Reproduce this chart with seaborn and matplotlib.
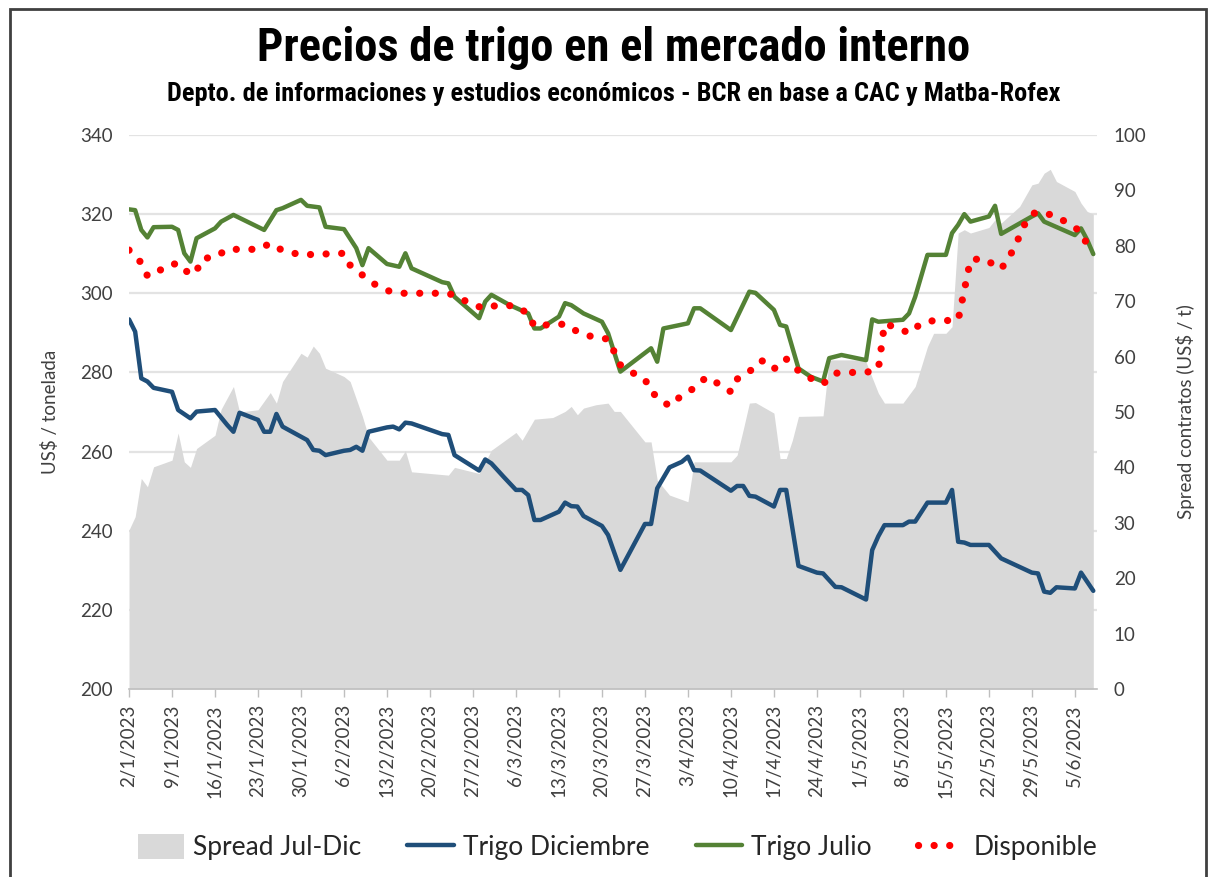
import pandas as pd
import matplotlib.pyplot as plt
from matplotlib.patches import Patch, Rectangle
from matplotlib.lines import Line2D
import seaborn as sns

# ======== DATA (dias desde 2/1/2023) ========
INICIO = pd.Timestamp("2023-01-02")

julio_dia = [0, 1, 2, 3, 4, 7, 8, 9, 10, 11, 14, 15, 17, 22, 24, 25, 28, 29, 31, 32, 35, 37, 38, 39,
             42, 44, 45, 46, 51, 52, 53, 57, 58, 59, 62, 65, 66, 67, 70, 71, 72, 74, 77, 78, 80, 85,
             86, 87, 91, 92, 93, 98, 101, 102, 105, 106, 107, 109, 111, 113, 114, 116, 120, 121, 122,
             126, 127, 128, 130, 133, 134, 135, 136, 137, 140, 141, 142, 147, 148, 149, 154, 155, 156, 157]
julio_val = [321.2, 321.0, 316.0, 314.1, 316.7, 316.8, 316.0, 310.1, 308.0, 313.9, 316.4, 318.1, 319.8,
             316.0, 321.0, 321.5, 323.6, 322.1, 321.7, 316.8, 316.2, 311.4, 307.1, 311.4, 307.4, 306.7,
             310.1, 306.3, 302.8, 302.5, 299.1, 293.7, 297.9, 299.6, 297.0, 294.9, 291.1, 291.1, 294.1,
             297.5, 297.0, 294.9, 292.8, 289.9, 280.2, 286.1, 282.7, 291.1, 292.4, 296.2, 296.2, 290.7,
             300.4, 300.1, 295.8, 292.0, 291.6, 281.0, 278.9, 277.7, 283.6, 284.4, 283.1, 293.4, 292.8,
             293.3, 294.9, 299.1, 309.7, 309.7, 315.2, 317.3, 320.0, 318.1, 319.4, 322.1, 315.0, 319.4,
             320.2, 318.1, 314.7, 316.4, 313.5, 309.9]

disp_dia = [0, 2, 3, 4, 6, 8, 10, 11, 12, 14, 16, 21, 23, 25, 28, 35, 36, 38, 40, 42, 44, 52, 54, 56,
            58, 60, 63, 65, 66, 68, 71, 73, 75, 78, 79, 80, 82, 84, 85, 87, 88, 90, 92, 94, 96, 98, 99,
            101, 103, 105, 106, 107, 109, 111, 113, 115, 118, 120, 122, 123, 125, 127, 129, 131, 133,
            135, 137, 139, 141, 142, 144, 145, 146, 147, 148, 151, 153, 155, 156, 157]
disp_val = [310.9, 307.7, 304.4, 304.6, 306.9, 307.6, 304.6, 305.7, 308.8, 309.1, 311.1, 311.1, 312.6,
            310.8, 309.7, 310.1, 307.1, 304.6, 302.3, 300.7, 300.0, 300.0, 298.7, 297.0, 296.2, 297.0,
            296.8, 294.8, 291.6, 292.0, 292.2, 290.3, 289.2, 288.4, 285.2, 281.9, 279.9, 278.3, 275.1,
            272.6, 271.5, 274.2, 276.0, 278.8, 277.1, 275.1, 278.3, 280.2, 283.0, 280.8, 282.7, 283.4,
            280.4, 278.5, 277.1, 279.8, 280.0, 280.0, 280.8, 292.2, 291.4, 289.9, 292.4, 293.1, 293.1,
            293.2, 308.4, 308.8, 307.1, 306.1, 311.0, 314.5, 318.0, 320.0, 320.6, 319.5, 317.5, 315.6,
            312.2, 310.2]

dic_dia = [0, 1, 2, 3, 4, 7, 8, 10, 11, 14, 16, 17, 18, 21, 22, 23, 24, 25, 29, 30, 31, 32, 35, 36,
           37, 38, 39, 42, 43, 44, 45, 46, 51, 52, 53, 57, 58, 59, 61, 63, 64, 65, 66, 67, 70, 71, 72,
           73, 74, 77, 78, 80, 84, 85, 86, 88, 90, 91, 92, 93, 98, 99, 100, 101, 102, 105, 106, 107,
           109, 112, 113, 115, 116, 120, 121, 122, 123, 126, 127, 128, 130, 133, 134, 135, 136, 137,
           140, 142, 147, 148, 149, 150, 151, 154, 155, 157]
dic_val = [293.4, 290.3, 278.5, 277.7, 276.1, 275.1, 270.5, 268.4, 270.1, 270.5, 266.7, 265.0, 269.8,
           268.0, 265.0, 265.0, 269.5, 266.3, 262.9, 260.4, 260.2, 259.1, 260.2, 260.4, 261.2, 260.2,
           265.0, 266.1, 266.3, 265.6, 267.3, 267.1, 264.4, 264.2, 259.1, 255.2, 258.0, 257.0, 253.6,
           250.3, 250.3, 249.0, 242.7, 242.7, 244.8, 247.1, 246.2, 246.1, 243.7, 241.2, 238.9, 230.1,
           241.7, 241.7, 250.7, 256.0, 257.4, 258.7, 255.3, 255.2, 250.1, 251.3, 251.3, 248.8, 248.6,
           246.1, 250.3, 250.3, 231.1, 229.4, 229.2, 225.8, 225.7, 222.6, 235.1, 238.6, 241.4, 241.4,
           242.3, 242.3, 247.1, 247.1, 250.3, 237.2, 237.0, 236.4, 236.4, 233.0, 229.4, 229.2, 224.6,
           224.3, 225.7, 225.4, 229.4, 224.8]

spread_dia = [0, 1, 2, 3, 4, 7, 8, 9, 10, 11, 14, 15, 17, 18, 21, 23, 24, 25, 28, 29, 30, 31, 32, 35,
              36, 38, 39, 42, 44, 45, 46, 52, 53, 57, 59, 63, 64, 66, 69, 71, 72, 73, 74, 76, 78, 79,
              80, 84, 85, 86, 88, 91, 92, 98, 99, 100, 101, 102, 105, 106, 107, 108, 109, 113, 114,
              119, 120, 122, 123, 126, 128, 130, 131, 133, 134, 135, 136, 137, 140, 141, 142, 145,
              147, 148, 149, 150, 151, 153, 154, 155, 156, 157]
spread_val = [28.7, 31.1, 38.0, 36.5, 40.1, 41.3, 46.2, 41.0, 40.0, 43.4, 45.8, 50.5, 54.6, 50.0, 50.4,
              53.5, 51.6, 55.5, 60.6, 59.9, 61.9, 60.6, 57.9, 56.4, 55.5, 49.2, 45.5, 41.3, 41.3, 43.0,
              39.2, 38.6, 40.0, 38.9, 43.1, 46.3, 44.9, 48.7, 49.0, 50.1, 51.0, 49.5, 50.7, 51.3, 51.6,
              50.1, 50.1, 44.6, 44.6, 37.7, 35.0, 33.8, 41.0, 41.0, 42.2, 46.8, 51.6, 51.7, 49.8, 41.6,
              41.6, 44.9, 49.2, 49.3, 59.4, 59.4, 59.0, 53.4, 51.6, 51.6, 54.6, 61.8, 64.2, 64.2, 65.4,
              82.3, 82.9, 82.3, 83.3, 84.7, 84.1, 87.1, 91.0, 91.3, 93.1, 93.8, 91.6, 90.4, 89.8, 87.7,
              86.2, 85.7]

precio_ticks = [200, 220, 240, 260, 280, 300, 320, 340]
spread_ticks = [0, 10, 20, 30, 40, 50, 60, 70, 80, 90, 100]


def fechas(dias):
    return INICIO + pd.to_timedelta(dias, unit="D")


julio = pd.DataFrame({"fecha": fechas(julio_dia), "valor": julio_val})
disp = pd.DataFrame({"fecha": fechas(disp_dia), "valor": disp_val})
dic = pd.DataFrame({"fecha": fechas(dic_dia), "valor": dic_val})
spread = pd.DataFrame({"fecha": fechas(spread_dia), "valor": spread_val})

# ======== STYLE ========
sns.set_theme(style="white")
plt.rcParams["font.family"] = ["Lato", "DejaVu Sans"]
TXT = "#404040"
AZUL = "#1F4E79"
VERDE = "#548235"
ROJO = "#FF0000"
GRIS = "#D9D9D9"
TITULO_FONT = ["Liberation Sans Narrow", "Roboto Condensed", "Liberation Sans"]

fig = plt.figure(figsize=(12.08, 8.77), dpi=100)
ax_s = fig.add_axes([0.1068, 0.2144, 0.8013, 0.6317])
ax_p = ax_s.twinx()

# ======== AREA (eje derecho, al fondo) ========
ax_s.fill_between(spread["fecha"], 0, spread["valor"], color=GRIS, lw=0, zorder=2)
ax_s.set_ylim(0, 100)
ax_s.set_yticks(spread_ticks)
ax_s.yaxis.tick_right()
ax_s.yaxis.set_label_position("right")
ax_s.set_ylabel("Spread contratos (US$ / t)", fontsize=13.5, color=TXT, labelpad=21)

# gridlines at the left-axis ticks, drawn behind the area
for p in precio_ticks[1:]:
    f = (p - precio_ticks[0]) / (precio_ticks[-1] - precio_ticks[0])
    ax_s.plot([0, 1], [f, f], transform=ax_s.transAxes, color="#E3E3E3", lw=1.6, zorder=1)

# ======== LINEAS (eje izquierdo, arriba) ========
sns.lineplot(data=dic, x="fecha", y="valor", ax=ax_p, color=AZUL, lw=3.2)
sns.lineplot(data=julio, x="fecha", y="valor", ax=ax_p, color=VERDE, lw=3.2)
sns.lineplot(data=disp, x="fecha", y="valor", ax=ax_p, color=ROJO, lw=5.2,
             linestyle=(0, (0.01, 2.15)), dash_capstyle="round")
ax_p.set_ylim(200, 340)
ax_p.set_yticks(precio_ticks)
ax_p.yaxis.tick_left()
ax_p.yaxis.set_label_position("left")
ax_p.set_ylabel("US$ / tonelada", fontsize=13.5, color=TXT, labelpad=15)
ax_p.set_xlabel("")

# ======== EJE X (en el eje de abajo, el twin lo oculta) ========
ticks_x = pd.date_range("2023-01-02", "2023-06-05", freq="7D")
ax_s.set_xlim(INICIO, INICIO + pd.Timedelta(days=157.6))
ax_s.set_xticks(ticks_x)
ax_s.set_xticklabels([f"{d.day}/{d.month}/{d.year}" for d in ticks_x], rotation=90)
ax_s.set_xlabel("")

for a in (ax_s, ax_p):
    for side in ("top", "left", "right", "bottom"):
        a.spines[side].set_visible(False)
    a.tick_params(axis="y", length=0, labelsize=13.5, labelcolor=TXT, pad=12)
ax_s.spines["bottom"].set_visible(True)
ax_s.spines["bottom"].set_color("#BFBFBF")
ax_s.spines["bottom"].set_linewidth(1.2)
ax_s.spines["bottom"].set_zorder(5)
ax_s.tick_params(axis="x", bottom=True, labelbottom=True, length=6, width=1, color="#BFBFBF",
                 labelsize=13.5, labelcolor=TXT, pad=5)

# ======== TITULOS ========
fig.text(0.508, 0.945, "Precios de trigo en el mercado interno", ha="center", va="center",
         fontsize=33.5, fontweight="bold", color="black", family=TITULO_FONT)
fig.text(0.508, 0.893, "Depto. de informaciones y estudios económicos - BCR en base a CAC y Matba-Rofex",
         ha="center", va="center", fontsize=19, fontweight="bold", color="black",
         family=TITULO_FONT)

# ======== LEYENDA ========
handles = [
    Patch(facecolor=GRIS, edgecolor="none"),
    Line2D([], [], color=AZUL, lw=3.2),
    Line2D([], [], color=VERDE, lw=3.2),
    Line2D([], [], color=ROJO, lw=5.2, linestyle=(0, (0.01, 2.15)), dash_capstyle="round"),
]
labels = ["Spread Jul-Dic", "Trigo Diciembre", "Trigo Julio", "Disponible"]
fig.legend(handles, labels, loc="center", bbox_to_anchor=(0.511, 0.034), ncol=4, frameon=False,
           fontsize=19, handlelength=1.75, handleheight=1.05, columnspacing=1.75, handletextpad=0.35,
           labelcolor="#262626")

# borde del grafico
fig.add_artist(Rectangle((0.008, -0.01), 0.99, 1.0, transform=fig.transFigure, fill=False,
                         edgecolor="#404040", lw=2))

fig.savefig("out.png", dpi=100)
